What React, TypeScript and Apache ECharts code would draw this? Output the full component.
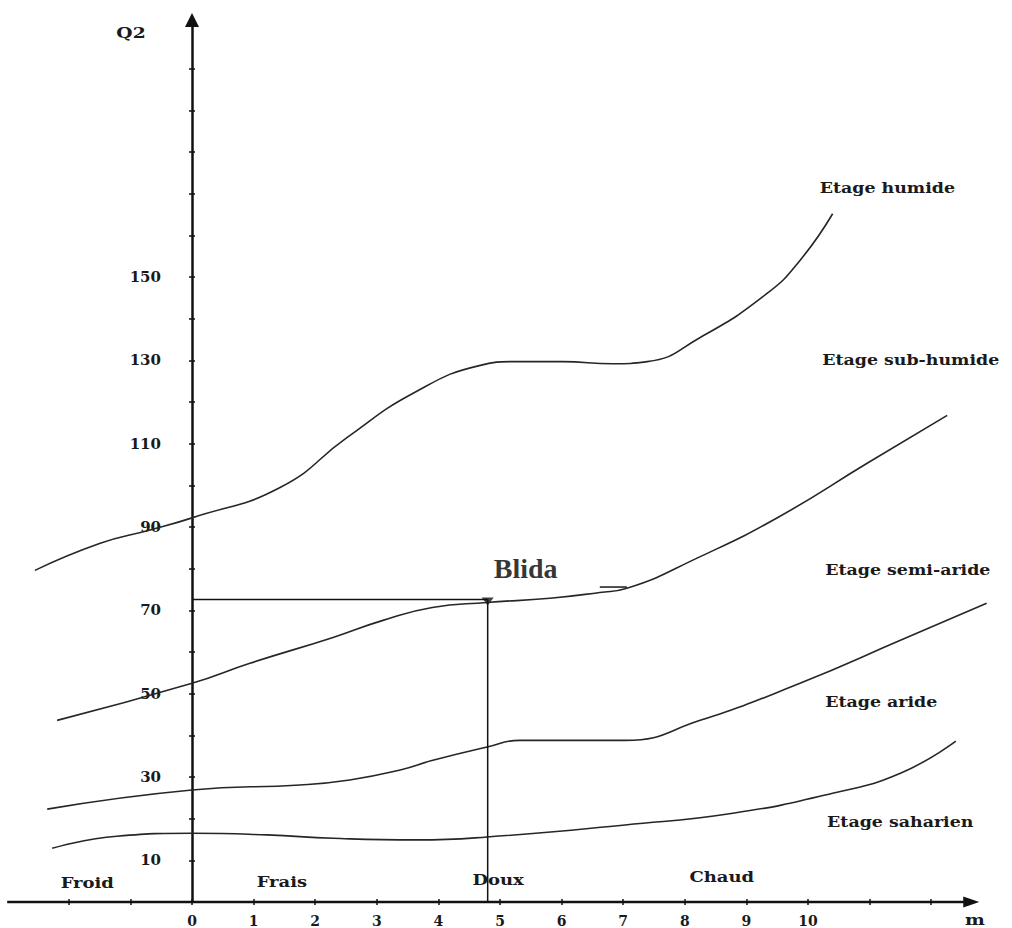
import React, { useEffect, useRef } from "react";
import * as echarts from "echarts";

// Emberger climagram: limits between bioclimatic stages, as [m (°C), Q2]
const limitHumide: [number, number][] = [
  [-2.55, 79.6], [-1.49, 86.1], [-0.68, 89.3], [0, 92.2], [1.43, 99.5],
  [2.52, 111.5], [3.59, 122.1], [4.68, 128.8], [5.21, 129.7], [6.02, 129.7],
  [6.83, 129.2], [7.39, 129.7], [8.25, 135.5], [9.33, 146], [9.87, 154], [10.4, 165.2],
];
const limitSubHumide: [number, number][] = [
  [-2.19, 43.6], [0, 52.5], [0.94, 57.3], [2.29, 63.5], [3.1, 67.6], [3.9, 70.7],
  [4.79, 71.9], [5.81, 72.9], [6.62, 74.3], [7.06, 75.3], [8.25, 82.9],
  [9.51, 92.3], [10.96, 105.3], [12.26, 116.8],
];
const limitSemiAride: [number, number][] = [
  [-2.35, 22.3], [0, 26.9], [1.75, 28.1], [2.56, 29.3], [3.38, 31.7], [3.91, 34],
  [4.79, 37.2], [5.32, 38.8], [6.08, 38.8], [7.03, 38.8], [8.25, 43.6],
  [9.87, 52.5], [11.5, 62.8], [12.9, 71.7],
];
const limitAride: [number, number][] = [
  [-2.27, 12.9], [-1.22, 15.8], [0, 16.5], [1.22, 16.1], [2.29, 15.3], [3.65, 14.9],
  [4.79, 15.6], [7.03, 18.5], [8.78, 21.3], [10.4, 26.1], [11.5, 30.9], [12.4, 38.6],
];
// short stroke drawn on the sub-humid limit near m = 7
const limitMark: [number, number][] = [[6.62, 75.6], [7.06, 75.6]];

// Station
const stationName = "Blida";
const stationM = 4.8;
const stationQ2 = 72.6;

// Axes
const X_MIN = -3;
const X_MAX = 13;
const X_ARROW_END = 12.65; // where the m axis line stops (arrow head)
const Y_MIN = 0;
const Y_MAX = 211.7;
const xTickValues = [-2, -1, 0, 1, 2, 3, 4, 5, 6, 7, 8, 9, 10, 11, 12];
const xLabelValues = [0, 1, 2, 3, 4, 5, 6, 7, 8, 9, 10];
const yTickValues = [0, 10, 20, 30, 40, 50, 60, 70, 80, 90, 100, 110, 120, 130, 140, 150, 160, 170, 180, 190, 200];
const yLabelValues = [10, 30, 50, 70, 90, 110, 130, 150];

// Stage names and their anchor (left edge) in data coordinates
const stageNames = ["Etage humide", "Etage sub-humide", "Etage semi-aride", "Etage aride", "Etage saharien"];
const stageAnchors: [number, number][] = [
  [10.19, 171.5], [10.23, 130.2], [10.28, 79.6], [10.28, 48], [10.31, 19.2],
];
// Winter variants along the m axis, centred
const winterNames = ["Froid", "Frais", "Doux", "Chaud"];
const winterAnchors: [number, number][] = [[-1.7, 4.6], [1.46, 4.8], [4.97, 5.3], [8.6, 6.2]];
// Axis titles
const axisTitles = ["Q2", "m"];
const axisTitleAnchors: [number, number][] = [[-0.99, 208.6], [12.71, -4.2]];

const INK = "#1a1a1a";
const SERIF = '"DejaVu Serif", serif';

// plot area
const GRID_LEFT = 7.2;
const GRID_RIGHT = 19.2;
const GRID_TOP = 20;
const GRID_BOTTOM = 26;
const CHART_W = 1012;
const CHART_H = 928;

function textSeries(
  texts: string[],
  anchors: [number, number][],
  align: "left" | "center",
  opts: { fontSize: number; fontFamily: string; scaleX: number; color: string }
): any {
  return {
    type: "custom",
    clip: false,
    silent: true,
    z: 10,
    data: anchors,
    encode: { x: 0, y: 1 },
    renderItem: (params: any, api: any) => {
      const p = api.coord([api.value(0), api.value(1)]);
      return {
        type: "text",
        x: p[0],
        y: p[1],
        scaleX: opts.scaleX,
        style: {
          text: texts[params.dataIndex],
          fill: opts.color,
          fontSize: opts.fontSize,
          fontFamily: opts.fontFamily,
          fontWeight: "bold",
          align,
          verticalAlign: "middle",
        },
      };
    },
  };
}

function curve(name: string, data: [number, number][], width = 1.6, smooth: number | boolean = 0.5): any {
  return {
    name,
    type: "line",
    data,
    smooth,
    symbol: "none",
    clip: false,
    silent: true,
    lineStyle: { color: "#262626", width },
  };
}

export default function App() {
  const ref = useRef<HTMLDivElement>(null);

  useEffect(() => {
    if (!ref.current) return;
    const chart = echarts.init(ref.current, undefined, { renderer: "svg" });

    const labelFont = { fontFamily: SERIF, fontWeight: "bold" as const, color: INK };
    // the Q2 axis stands at m = 0: shift it inward from the grid's left edge
    const plotW = CHART_W - GRID_LEFT - GRID_RIGHT;
    const yAxisShift = -((0 - X_MIN) / (X_MAX - X_MIN)) * plotW;
    const tickStyle = { color: "#111", width: 1.5 };

    chart.setOption({
      animation: false,
      backgroundColor: "#ffffff",
      grid: {
        left: GRID_LEFT,
        right: GRID_RIGHT,
        top: GRID_TOP,
        bottom: GRID_BOTTOM,
        containLabel: false,
        outerBoundsMode: "none",
      },
      xAxis: [
        {
          type: "value",
          min: X_MIN,
          max: X_MAX,
          splitLine: { show: false },
          axisLine: { show: false },
          axisTick: { customValues: xTickValues, length: 3, lineStyle: tickStyle },
          axisLabel: { customValues: xLabelValues, margin: 12, fontSize: 14, ...labelFont },
        },
        {
          // inner half of the ticks, so that they cross the axis
          type: "value",
          min: X_MIN,
          max: X_MAX,
          position: "bottom",
          splitLine: { show: false },
          axisLine: { show: false, onZero: false },
          axisTick: { customValues: xTickValues, inside: true, length: 3, lineStyle: tickStyle },
          axisLabel: { show: false },
        },
      ],
      yAxis: [
        {
          type: "value",
          min: Y_MIN,
          max: Y_MAX,
          offset: yAxisShift,
          splitLine: { show: false },
          axisLine: {
            onZero: false,
            symbol: ["none", "triangle"],
            symbolSize: [14, 14],
            lineStyle: { color: "#111", width: 2.5 },
          },
          axisTick: { customValues: yTickValues, length: 3, lineStyle: tickStyle },
          axisLabel: { customValues: yLabelValues, margin: 31, fontSize: 15, ...labelFont },
        },
        {
          type: "value",
          min: Y_MIN,
          max: Y_MAX,
          position: "left",
          offset: yAxisShift,
          splitLine: { show: false },
          axisLine: { show: false, onZero: false },
          axisTick: { customValues: yTickValues, inside: true, length: 3, lineStyle: tickStyle },
          axisLabel: { show: false },
        },
      ],
      series: [
        {
          // m axis line with its arrow head
          name: "Axe m",
          type: "line",
          data: [
            { value: [X_MIN, 0], symbol: "none" },
            { value: [X_ARROW_END, 0], symbol: "triangle", symbolRotate: -90, symbolSize: [11, 16] },
          ],
          clip: false,
          silent: true,
          z: 5,
          itemStyle: { color: "#111" },
          lineStyle: { color: "#111", width: 2.5 },
        },
        curve("Limite humide / sub-humide", limitHumide),
        curve("Limite sub-humide / semi-aride", limitSubHumide),
        curve("Limite semi-aride / aride", limitSemiAride),
        curve("Limite aride / saharien", limitAride),
        curve("Trait", limitMark, 1.6, false),
        {
          name: "Blida Q2",
          type: "line",
          data: [[0, stationQ2], [stationM, stationQ2]],
          symbol: "none",
          silent: true,
          lineStyle: { color: "#111", width: 1.5 },
        },
        {
          name: "Blida m",
          type: "line",
          data: [[stationM, stationQ2], [stationM, 0]],
          symbol: "none",
          silent: true,
          lineStyle: { color: "#111", width: 1.5 },
        },
        {
          name: stationName,
          type: "scatter",
          data: [[stationM, stationQ2]],
          symbol: "triangle",
          symbolRotate: 180,
          symbolSize: [12, 8],
          symbolOffset: [0, 2],
          silent: true,
          itemStyle: { color: "#111" },
          label: {
            show: true,
            formatter: stationName,
            position: "top",
            offset: [38, -10],
            fontFamily: '"Liberation Serif", serif',
            fontWeight: "bold",
            fontSize: 28,
            color: "#000",
          },
        },
        textSeries(stageNames, stageAnchors, "left", { fontSize: 15, fontFamily: SERIF, scaleX: 1.16, color: INK }),
        textSeries(winterNames, winterAnchors, "center", { fontSize: 15, fontFamily: SERIF, scaleX: 1.2, color: INK }),
        textSeries(axisTitles, axisTitleAnchors, "center", { fontSize: 15, fontFamily: SERIF, scaleX: 1.25, color: INK }),
      ],
    });

    return () => chart.dispose();
  }, []);

  return (
    <div
      ref={ref}
      style={{ position: "absolute", left: 0, top: 0, width: CHART_W, height: CHART_H, background: "#fff" }}
    />
  );
}
